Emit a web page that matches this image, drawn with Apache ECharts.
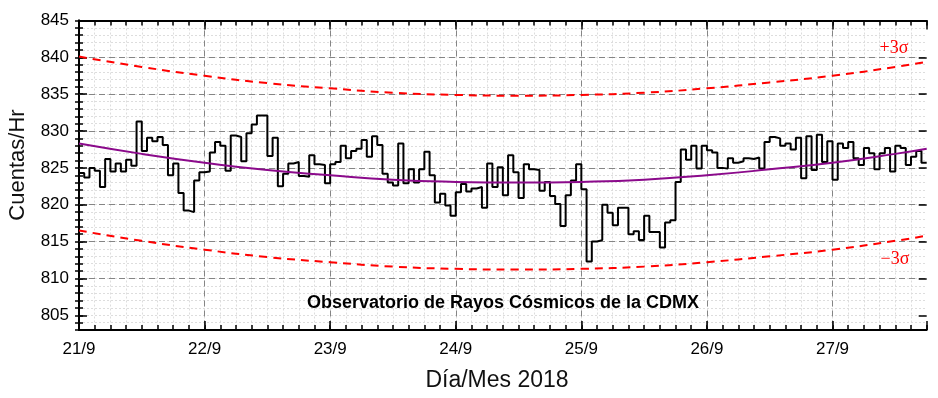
<!DOCTYPE html>
<html><head><meta charset="utf-8">
<script src="https://cdn.jsdelivr.net/npm/echarts@6/dist/echarts.min.js"></script>
<style>html,body{margin:0;padding:0;background:#fff}#c{width:938px;height:398px}</style>
</head><body><div id="c"></div>
<script>
// ---- data ----
const dayLabels = ['21/9','22/9','23/9','24/9','25/9','26/9','27/9'];
// hourly counts, starting 21/9 00:00, one value per hour
const hourlyCounts = [
 824.3,823.7,825.0,824.6,822.4,826.2,824.5,825.6,824.5,826.1,825.3,831.3,
 827.3,829.1,828.6,829.2,828.1,824.0,825.6,821.6,819.2,819.0,823.3,824.4,
 824.5,827.1,828.5,828.0,824.6,829.4,829.2,825.9,829.7,830.9,832.1,832.1,
 826.6,829.1,822.5,824.2,825.6,825.8,823.9,823.8,826.7,825.5,825.4,822.9,
 825.5,825.8,828.0,826.3,827.3,827.6,828.8,826.5,829.3,828.1,824.2,823.0,
 822.6,828.3,822.9,824.8,823.0,824.8,827.2,824.0,820.3,821.5,819.9,818.5,
 821.7,822.8,821.8,822.2,822.4,819.6,825.6,822.4,825.1,821.3,826.7,824.4,
 820.9,825.5,824.8,824.7,821.9,823.1,821.2,820.1,817.1,821.3,823.3,825.5,
 822.1,812.3,815.0,815.2,820.0,818.9,817.2,819.6,819.6,816.0,816.4,815.2,
 818.5,816.3,816.3,814.2,817.6,817.9,823.1,827.5,826.1,828.0,824.9,828.0,
 827.4,827.1,825.0,824.9,826.3,825.7,825.9,826.3,826.2,826.4,824.9,828.5,
 829.2,829.0,828.0,828.3,827.5,829.1,823.6,829.3,824.7,829.5,825.8,828.6,
 823.4,828.3,827.7,828.5,826.3,825.4,827.7,827.0,824.8,827.0,827.7,824.5,
 828.0,827.7,825.4,826.5,827.3,825.7
];
const curveHours = [0,12,24,36,48,60,72,84,96,108,120,132,144,156,162];
const fitValues   = [828.3,826.9,825.7,824.7,824.0,823.4,823.1,823.0,823.1,823.4,824.0,824.8,825.7,826.9,827.6];
const upperValues = [840.1,838.7,837.5,836.5,835.8,835.2,834.9,834.8,834.9,835.2,835.8,836.6,837.5,838.7,839.4];
const lowerValues = [816.5,815.1,813.9,812.9,812.2,811.6,811.3,811.2,811.3,811.6,812.2,813.0,813.9,815.1,815.8];
const yMin = 803, yMax = 845, yLabelMin = 805, yStep = 5;
const xMax = 162;

// ---- layout ----
const L = 79, R = 938 - 926.7, T = 20.5, B = 398 - 330;
const plotH = 398 - T - B;
const y805 = T + (yMax - yLabelMin) / (yMax - yMin) * plotH;

const stepData = hourlyCounts.map((v, i) => [i, v]);
stepData.push([hourlyCounts.length, hourlyCounts[hourlyCounts.length - 1]]);
const pair = arr => curveHours.map((h, i) => [h, arr[i]]);

const FONT = 'Liberation Sans, Arial, sans-serif';
const frameLine = { show: true, lineStyle: { color: '#000', width: 2 } };
const minorGrid = { show: true, showMinLine: false, showMaxLine: false, lineStyle: { color: '#dddddd', type: [2, 2], width: 1 } };
const majorGrid = { show: true, showMinLine: false, showMaxLine: false, lineStyle: { color: '#858585', type: [6, 4], width: 1 } };
const tickStyle = { color: '#000', width: 1.5 };

const chart = echarts.init(document.getElementById('c'), null, { renderer: 'canvas' });
chart.setOption({
  animation: false,
  backgroundColor: '#fff',
  grid: [
    { left: L, right: R, top: T, bottom: B },
    { left: L, right: R, top: T, bottom: 398 - y805 },
    { left: L, right: R, top: T, bottom: B }
  ],
  xAxis: [
    { gridIndex: 0, type: 'value', position: 'bottom', min: 0, max: xMax, interval: 3, z: 1,
      axisLine: frameLine, axisTick: { inside: true, length: 5, lineStyle: tickStyle },
      axisLabel: { show: false }, splitLine: minorGrid },
    { gridIndex: 0, type: 'value', position: 'top', min: 0, max: xMax, interval: 3, z: 1,
      axisLine: frameLine, axisTick: { inside: true, length: 5, lineStyle: tickStyle },
      axisLabel: { show: false }, splitLine: { show: false } },
    { gridIndex: 2, type: 'value', position: 'bottom', min: 0, max: xMax, interval: 24, z: 2,
      axisLine: { show: false }, axisTick: { inside: true, length: 9, lineStyle: tickStyle },
      axisLabel: { show: true, margin: 11, color: '#000', fontSize: 17, fontFamily: FONT,
        formatter: v => (v % 24 === 0 ? dayLabels[v / 24] : '') },
      splitLine: majorGrid },
    { gridIndex: 2, type: 'value', position: 'top', min: 0, max: xMax, interval: 24, z: 2,
      axisLine: { show: false }, axisTick: { inside: true, length: 9, lineStyle: tickStyle },
      axisLabel: { show: false }, splitLine: { show: false } },
    { gridIndex: 1, type: 'value', show: false, min: 0, max: xMax }
  ],
  yAxis: [
    { gridIndex: 0, type: 'value', position: 'left', min: yMin, max: yMax, interval: 1, z: 1,
      axisLine: frameLine, axisTick: { inside: true, length: 4, lineStyle: tickStyle },
      axisLabel: { show: false }, splitLine: minorGrid },
    { gridIndex: 0, type: 'value', position: 'right', min: yMin, max: yMax, interval: 1, z: 1,
      axisLine: frameLine, axisTick: { inside: true, length: 4, lineStyle: tickStyle },
      axisLabel: { show: false }, splitLine: { show: false } },
    { gridIndex: 1, type: 'value', position: 'left', min: yLabelMin, max: yMax, interval: yStep, z: 2,
      axisLine: { show: false }, axisTick: { inside: true, length: 8, lineStyle: tickStyle },
      axisLabel: { show: true, margin: 10, color: '#000', fontSize: 17, fontFamily: FONT },
      splitLine: majorGrid },
    { gridIndex: 1, type: 'value', position: 'right', min: yLabelMin, max: yMax, interval: yStep, z: 2,
      axisLine: { show: false }, axisTick: { inside: true, length: 8, lineStyle: tickStyle },
      axisLabel: { show: false }, splitLine: { show: false } },
    { gridIndex: 2, type: 'value', show: false, min: yMin, max: yMax }
  ],
  series: [
    { type: 'line', name: '+3σ', xAxisIndex: 0, yAxisIndex: 0, data: pair(upperValues), smooth: true,
      showSymbol: false, symbol: 'none', z: 20, lineStyle: { color: '#ff0000', width: 2, type: [8, 6] } },
    { type: 'line', name: '-3σ', xAxisIndex: 0, yAxisIndex: 0, data: pair(lowerValues), smooth: true,
      showSymbol: false, symbol: 'none', z: 20, lineStyle: { color: '#ff0000', width: 2, type: [8, 6] } },
    { type: 'line', name: 'Cuentas', xAxisIndex: 0, yAxisIndex: 0, data: stepData, step: 'end',
      showSymbol: false, symbol: 'none', z: 21, lineStyle: { color: '#000', width: 2 } },
    { type: 'line', name: 'ajuste', xAxisIndex: 0, yAxisIndex: 0, data: pair(fitValues), smooth: true,
      showSymbol: false, symbol: 'none', z: 22, lineStyle: { color: '#8b0a8b', width: 2 } }
  ],
  graphic: [
    { type: 'text', x: 503, y: 303, z: 30, style: { text: 'Observatorio de Rayos Cósmicos de la CDMX',
      font: 'bold 18px Liberation Sans, Arial, sans-serif', fill: '#000', align: 'center', verticalAlign: 'middle' } },
    { type: 'text', x: 894, y: 48, z: 30, style: { text: '+3σ',
      font: '18px Liberation Serif, Times New Roman, serif', fill: '#ff0000', align: 'center', verticalAlign: 'middle' } },
    { type: 'text', x: 895, y: 259, z: 30, style: { text: '\u22123σ',
      font: '18px Liberation Serif, Times New Roman, serif', fill: '#ff0000', align: 'center', verticalAlign: 'middle' } },
    { type: 'text', x: 18, y: 165, rotation: Math.PI / 2, z: 30, style: { text: 'Cuentas/Hr',
      font: '22px Liberation Sans, Arial, sans-serif', fill: '#111', align: 'center', verticalAlign: 'middle' } },
    { type: 'text', x: 497, y: 381, z: 30, style: { text: 'Día/Mes 2018',
      font: '23px Liberation Sans, Arial, sans-serif', fill: '#111', align: 'center', verticalAlign: 'middle' } }
  ]
});
</script></body></html>
